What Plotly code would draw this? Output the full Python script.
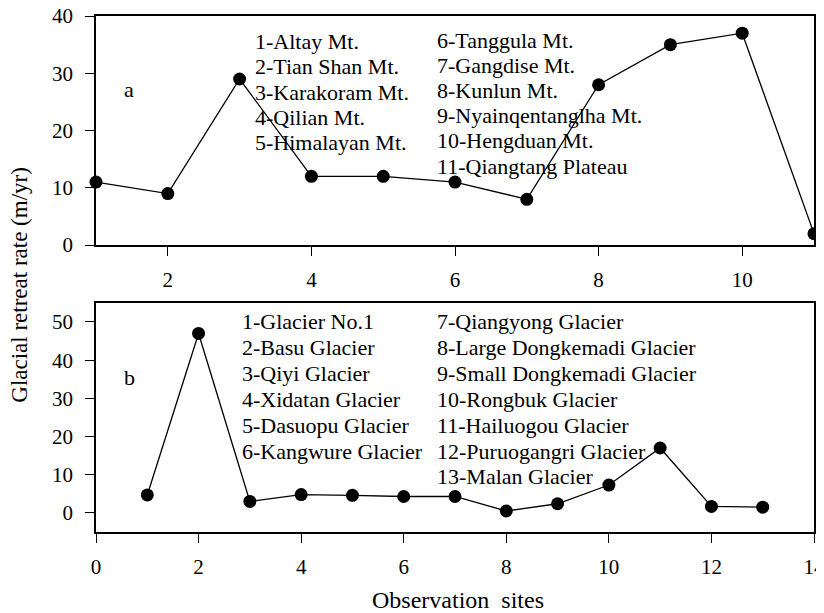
import plotly.graph_objects as go
from plotly.subplots import make_subplots

# panel a: mountain ranges
sites_a = list(range(1, 12))
rate_a = [11, 9, 29, 12, 12, 11, 8, 28, 35, 37, 2]
names_a1 = ['1-Altay Mt.', '2-Tian Shan Mt.', '3-Karakoram Mt.', '4-Qilian Mt.', '5-Himalayan Mt.']
names_a2 = ['6-Tanggula Mt.', '7-Gangdise Mt.', '8-Kunlun Mt.', '9-Nyainqentanglha Mt.',
            '10-Hengduan Mt.', '11-Qiangtang Plateau']

# panel b: individual glaciers
sites_b = list(range(1, 14))
rate_b = [4.7, 47, 3, 4.8, 4.6, 4.3, 4.3, 0.5, 2.4, 7.3, 17, 1.7, 1.5]
names_b1 = ['1-Glacier No.1', '2-Basu Glacier', '3-Qiyi Glacier', '4-Xidatan Glacier',
            '5-Dasuopu Glacier', '6-Kangwure Glacier']
names_b2 = ['7-Qiangyong Glacier', '8-Large Dongkemadi Glacier', '9-Small Dongkemadi Glacier',
            '10-Rongbuk Glacier', '11-Hailuogou Glacier', '12-Puruogangri Glacier', '13-Malan Glacier']

FONT = 'Liberation Serif'
fig = make_subplots(rows=2, cols=1, vertical_spacing=0.112)

for row, (xs, ys) in enumerate([(sites_a, rate_a), (sites_b, rate_b)], start=1):
    fig.add_trace(go.Scatter(x=xs, y=ys, mode='lines+markers',
                             line=dict(color='black', width=1.3),
                             marker=dict(color='black', size=13),
                             cliponaxis=False, showlegend=False), row=row, col=1)

axis_style = dict(showline=True, linecolor='black', linewidth=1.5, mirror=True,
                  ticks='outside', ticklen=9, tickcolor='black', tickwidth=1.3, showgrid=False,
                  zeroline=False, automargin=False, ticklabeloverflow='allow',
                  tickfont=dict(family=FONT, size=21, color='black'))
fig.update_xaxes(ticklabelstandoff=6, **axis_style)
fig.update_yaxes(ticklabelstandoff=8, **axis_style)
fig.update_xaxes(range=[1, 11], tickvals=[2, 4, 6, 8, 10], row=1, col=1)
fig.update_yaxes(range=[0, 40], tickvals=[0, 10, 20, 30, 40], row=1, col=1)
fig.update_xaxes(range=[0, 14], dtick=2, row=2, col=1)
fig.update_yaxes(range=[-5, 55], tickvals=[0, 10, 20, 30, 40, 50], row=2, col=1)

tfont = dict(family=FONT, size=22, color='black')
# (axis, x start in domain, first line y in domain, line step in domain, names)
columns = [('', 0.2187, 0.888, 0.110, names_a1), ('', 0.472, 0.895, 0.110, names_a2),
           ('2', 0.2006, 0.917, 0.1127, names_b1), ('2', 0.472, 0.917, 0.1127, names_b2)]
for ax, xp, y0, step, names in columns:
    for i, name in enumerate(names):
        fig.add_annotation(xref='x' + ax + ' domain', yref='y' + ax + ' domain',
                           x=xp, y=y0 - i * step, text=name, showarrow=False,
                           xanchor='left', yanchor='middle', font=tfont)
fig.add_annotation(xref='x domain', yref='y domain', x=0.036, y=0.742, text='a',
                   showarrow=False, font=tfont)
fig.add_annotation(xref='x2 domain', yref='y2 domain', x=0.036, y=0.738, text='b',
                   showarrow=False, font=tfont)
fig.add_annotation(xref='paper', yref='paper', x=-0.106, y=0.479, text='Glacial retreat rate (m/yr)',
                   textangle=-90, showarrow=False, xanchor='center', yanchor='middle',
                   font=dict(family=FONT, size=23, color='black'))
fig.add_annotation(xref='paper', yref='paper', x=0.504, y=-0.132, text='Observation  sites',
                   showarrow=False, xanchor='center', yanchor='middle',
                   font=dict(family=FONT, size=24, color='black'))

fig.update_layout(width=816, height=605, plot_bgcolor='white', paper_bgcolor='white',
                  margin=dict(l=88, r=10, t=8, b=81))

fig.write_html('out.html')
